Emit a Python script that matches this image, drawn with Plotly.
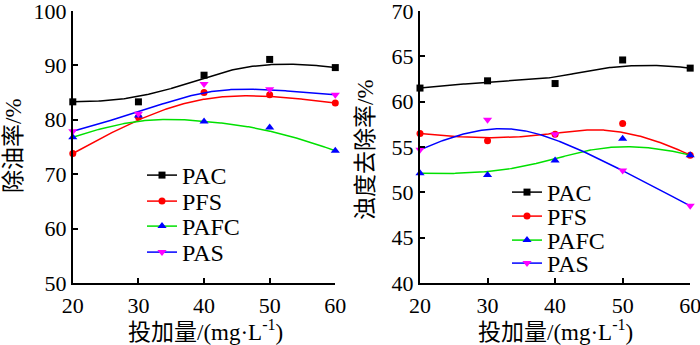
import numpy as np
import plotly.graph_objects as go

dose = [20, 30, 40, 50, 60]
series_names = ["PAC", "PFS", "PAFC", "PAS"]

# Left panel: oil removal rate (%)
oil_pac = [83.3, 83.3, 88.2, 91.1, 89.6]
oil_pfs = [73.8, 80.5, 85.0, 84.6, 83.1]
oil_pafc = [76.8, 80.8, 79.7, 78.6, 74.3]
oil_pas = [77.9, 81.1, 86.6, 85.6, 84.6]

# Right panel: turbidity removal rate (%)
tur_pac = [61.5, 62.3, 62.0, 64.6, 63.7]
tur_pfs = [56.5, 55.7, 56.4, 57.6, 54.1]
tur_pafc = [52.1, 51.9, 53.5, 55.9, 54.1]
tur_pas = [54.7, 58.0, 56.4, 52.4, 48.5]

x_ticks = [20, 30, 40, 50, 60]
oil_ticks = [50, 60, 70, 80, 90, 100]
tur_ticks = [40, 45, 50, 55, 60, 65, 70]

line_colors = ["#000000", "#FF0000", "#00E000", "#0000FF"]
marker_colors = ["#000000", "#FF0000", "#0000FF", "#FF00FF"]
marker_symbols = ["square", "circle", "triangle-up", "triangle-down"]
marker_sizes = [7, 7, 8, 8]


def bspline(px, py, num=200, k=3):
    """Clamped cubic B-spline using the data points as control points."""
    px = np.asarray(px, float)
    py = np.asarray(py, float)
    n = len(px)
    knots = np.concatenate([np.zeros(k), np.linspace(0, 1, n - k + 1), np.ones(k)])
    t = np.linspace(0, 1, num)
    m = len(knots) - 1
    B = np.zeros((num, m))
    for i in range(m):
        B[:, i] = (knots[i] <= t) & (t < knots[i + 1])
    B[-1, :] = 0
    B[-1, n - 1] = 1
    for d in range(1, k + 1):
        nb = np.zeros((num, m - d))
        for i in range(m - d):
            a = knots[i + d] - knots[i]
            b = knots[i + d + 1] - knots[i + 1]
            term = np.zeros(num)
            if a > 0:
                term += (t - knots[i]) / a * B[:, i]
            if b > 0:
                term += (knots[i + d + 1] - t) / b * B[:, i + 1]
            nb[:, i] = term
        B = nb
    return B @ px, B @ py


W, H = 700, 345
font_main = "Liberation Serif, Noto Sans CJK SC, serif"

# legend placement (pixel positions: legend left edge, entry centre rows)
legend_left_x = 142
legend_left_rows = [175, 201, 226, 252]
legend_right_x = 507
legend_right_rows = [192, 216, 240, 263]
legend_row_offset = 22

fig = go.Figure()

panels = [
    ("x", "y", legend_left_x, legend_left_rows, 1, [oil_pac, oil_pfs, oil_pafc, oil_pas]),
    ("x2", "y2", legend_right_x, legend_right_rows, 5, [tur_pac, tur_pfs, tur_pafc, tur_pas]),
]

legend_layouts = {}
for xa, ya, lx, rows, lstart, data in panels:
    for i, vals in enumerate(data):
        cx, cy = bspline(dose, vals)
        fig.add_trace(go.Scatter(
            x=cx, y=cy, mode="lines", xaxis=xa, yaxis=ya,
            line=dict(color=line_colors[i], width=1.5),
            showlegend=False, hoverinfo="skip", cliponaxis=False,
        ))
        fig.add_trace(go.Scatter(
            x=dose, y=vals, mode="markers", xaxis=xa, yaxis=ya,
            marker=dict(color=marker_colors[i], symbol=marker_symbols[i],
                        size=marker_sizes[i]),
            showlegend=False, cliponaxis=False, name=series_names[i],
        ))
        lname = "legend" if lstart + i == 1 else f"legend{lstart + i}"
        fig.add_trace(go.Scatter(
            x=[None], y=[None], mode="lines+markers", xaxis=xa, yaxis=ya,
            line=dict(color=line_colors[i], width=1.5),
            marker=dict(color=marker_colors[i], symbol=marker_symbols[i],
                        size=marker_sizes[i]),
            name=series_names[i], legend=lname, showlegend=True,
        ))
        legend_layouts[lname] = dict(
            x=lx / W, y=1 - (rows[i] - legend_row_offset) / H,
            xanchor="left", yanchor="top",
            bgcolor="rgba(0,0,0,0)", itemwidth=30,
            font=dict(family=font_main, size=24, color="black"),
        )

axis_common = dict(
    showline=True, linecolor="black", linewidth=2,
    ticks="inside", ticklen=5, tickwidth=1.5, tickcolor="black",
    showgrid=False, zeroline=False, mirror=False, automargin=False,
    ticklabeloverflow="allow",
    tickfont=dict(family=font_main, size=22, color="black"),
)

fig.update_layout(
    template="none",
    width=W, height=H,
    margin=dict(l=0, r=0, t=0, b=0, pad=0, autoexpand=False),
    paper_bgcolor="white", plot_bgcolor="white",
    xaxis=dict(domain=[0.104, 0.479], range=[20, 60], tickvals=x_ticks,
               anchor="y", ticklabelstandoff=2, **axis_common),
    yaxis=dict(domain=[0.18, 0.968], range=[50, 100], tickvals=oil_ticks,
               anchor="x", **axis_common),
    xaxis2=dict(domain=[0.6, 0.986], range=[20, 60], tickvals=x_ticks,
                anchor="y2", ticklabelstandoff=2, **axis_common),
    yaxis2=dict(domain=[0.18, 0.968], range=[40, 70], tickvals=tur_ticks,
                anchor="x2", **axis_common),
    showlegend=True,
    **legend_layouts,
)

title_font = dict(family=font_main, size=23, color="black")
xtitle_text = "投加量/(mg·L<sup>-1</sup>)"
for cxp in (205, 555):
    fig.add_annotation(text=xtitle_text, xref="paper", yref="paper",
                       x=cxp / W, y=0, showarrow=False,
                       xanchor="center", yanchor="bottom", yshift=-2,
                       font=title_font)
fig.add_annotation(text="除油率/%", xref="paper", yref="paper",
                   x=14 / W, y=1 - 146 / H, showarrow=False, textangle=-90,
                   xanchor="center", yanchor="middle", font=title_font)
fig.add_annotation(text="浊度去除率/%", xref="paper", yref="paper",
                   x=366 / W, y=1 - 150 / H, showarrow=False, textangle=-90,
                   xanchor="center", yanchor="middle", font=title_font)

fig.write_html("out.html")
